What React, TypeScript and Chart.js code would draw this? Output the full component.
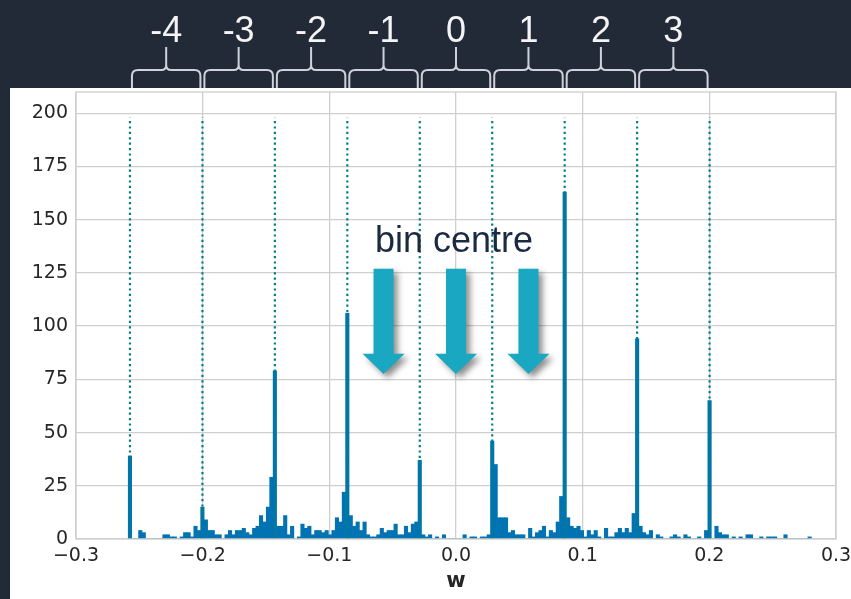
import React, { useEffect, useRef } from 'react';
import { Chart, registerables } from 'chart.js';

Chart.register(...registerables);

// ---- data ----
const binStep = 0.0572;
const braceLabels = [-4, -3, -2, -1, 0, 1, 2, 3];
const binEdges = [-0.2574, -0.2002, -0.143, -0.0858, -0.0286, 0.0286, 0.0858, 0.143, 0.2002];
const arrowBins = [-1, 0, 1];
const histFirstCentre = -0.2574;
const histBinWidth = 0.0572 / 21;
const histCounts = [
  39, 0, 0, 4, 3, 0, 0, 0, 0, 0,
  2, 2, 1, 1, 0, 1, 3, 3, 1, 6,
  4, 15, 9, 4, 4, 2, 2, 0, 2, 4,
  2, 4, 4, 5, 3, 2, 5, 6, 11, 8,
  15, 29, 79, 6, 6, 11, 2, 6, 0, 1,
  7, 5, 6, 2, 4, 4, 3, 4, 2, 4,
  10, 8, 22, 106, 11, 6, 8, 4, 8, 2,
  1, 1, 2, 5, 3, 4, 4, 7, 2, 2,
  6, 3, 7, 8, 37, 2, 1, 2, 0, 1,
  0, 2, 0, 0, 0, 0, 0, 2, 0, 1,
  1, 0, 1, 1, 2, 46, 35, 10, 10, 10,
  3, 4, 2, 2, 2, 0, 5, 1, 3, 4,
  6, 1, 4, 3, 8, 20, 163, 10, 6, 5,
  6, 4, 1, 4, 2, 4, 1, 0, 5, 1,
  1, 3, 5, 3, 5, 3, 12, 94, 6, 3,
  2, 4, 0, 2, 1, 0, 0, 1, 2, 1,
  0, 2, 1, 0, 0, 1, 0, 4, 65, 0,
  6, 3, 2, 2, 0, 1, 0, 1, 0, 2,
  2, 0, 0, 1, 0, 1, 1, 1, 0, 0,
  2, 0, 0, 0, 0, 0, 0, 1,
];
const xTicks = [-0.3, -0.2, -0.1, 0, 0.1, 0.2, 0.3];
const yTicks = [0, 25, 50, 75, 100, 125, 150, 175, 200];
const vlineTop = 198;
const arrowTop = 127;
const arrowHeadStart = 87;
const arrowTip = 77.5;

// ---- styles ----
const DARK = '#232a37';
const BAR = '#0173b2';
const TEAL = '#008080';
const GRID = '#cfcfcf';
const TICK = '#262626';
const ARROW = '#19a7c1';
const BRACE = '#cdd2db';

function drawBrace(ctx: CanvasRenderingContext2D, x0: number, x1: number, yBottom: number, yBar: number, yTip: number) {
  const xc = (x0 + x1) / 2;
  const r = 6;
  ctx.beginPath();
  ctx.moveTo(x0, yBottom);
  ctx.lineTo(x0, yBar + r);
  ctx.quadraticCurveTo(x0, yBar, x0 + r, yBar);
  ctx.lineTo(xc - 5, yBar);
  ctx.quadraticCurveTo(xc, yBar, xc, yBar - 5);
  ctx.lineTo(xc, yTip);
  ctx.moveTo(x1, yBottom);
  ctx.lineTo(x1, yBar + r);
  ctx.quadraticCurveTo(x1, yBar, x1 - r, yBar);
  ctx.lineTo(xc + 5, yBar);
  ctx.quadraticCurveTo(xc, yBar, xc, yBar - 5);
  ctx.stroke();
}

const decorPlugin = {
  id: 'decor',
  beforeDraw(chart: any) {
    const { ctx, width, height } = chart;
    ctx.save();
    ctx.fillStyle = DARK;
    ctx.fillRect(0, 0, width, height);
    ctx.fillStyle = '#ffffff';
    ctx.fillRect(10, 88, width - 10, height - 88);
    ctx.restore();
  },
  afterDatasetsDraw(chart: any) {
    const { ctx, chartArea } = chart;
    ctx.save();
    ctx.strokeStyle = GRID;
    ctx.lineWidth = 1.3;
    ctx.strokeRect(chartArea.left, chartArea.top, chartArea.right - chartArea.left, chartArea.bottom - chartArea.top);
    ctx.restore();
  },
  afterDraw(chart: any) {
    const { ctx } = chart;
    const xs = chart.scales.x;
    const ys = chart.scales.y;
    ctx.save();
    // braces + labels
    ctx.strokeStyle = BRACE;
    ctx.lineWidth = 2;
    ctx.lineJoin = 'round';
    ctx.fillStyle = '#f4f4f4';
    ctx.font = '36px "Liberation Sans", Arial, sans-serif';
    ctx.textAlign = 'center';
    ctx.textBaseline = 'alphabetic';
    braceLabels.forEach((k) => {
      const xa = xs.getPixelForValue((k - 0.5) * binStep) + 2;
      const xb = xs.getPixelForValue((k + 0.5) * binStep) - 2;
      drawBrace(ctx, xa, xb, 88, 70, 47);
      ctx.fillText(String(k), xs.getPixelForValue(k * binStep), 42);
    });
    // "bin centre" text
    ctx.fillStyle = '#1b2a41';
    ctx.font = '36px "Liberation Sans", Arial, sans-serif';
    ctx.fillText('bin centre', xs.getPixelForValue(0) - 2, 252);
    // arrows
    const yTop = ys.getPixelForValue(arrowTop);
    const yHead = ys.getPixelForValue(arrowHeadStart);
    const yTipPx = ys.getPixelForValue(arrowTip);
    arrowBins.forEach((k) => {
      const cx = xs.getPixelForValue(k * binStep);
      ctx.save();
      ctx.shadowColor = 'rgba(0,0,0,0.45)';
      ctx.shadowBlur = 6;
      ctx.shadowOffsetX = 4;
      ctx.shadowOffsetY = 4;
      ctx.fillStyle = ARROW;
      ctx.beginPath();
      ctx.moveTo(cx - 10, yTop);
      ctx.lineTo(cx + 10, yTop);
      ctx.lineTo(cx + 10, yHead);
      ctx.lineTo(cx + 21, yHead);
      ctx.lineTo(cx, yTipPx);
      ctx.lineTo(cx - 21, yHead);
      ctx.lineTo(cx - 10, yHead);
      ctx.closePath();
      ctx.fill();
      ctx.restore();
    });
    ctx.restore();
  },
};

export default function App() {
  const canvasRef = useRef<HTMLCanvasElement | null>(null);

  useEffect(() => {
    const canvas = canvasRef.current;
    if (!canvas) return;
    const barData = histCounts.map((c, i) => ({ x: histFirstCentre + i * histBinWidth, y: c }));
    const lineData: any[] = [];
    binEdges.forEach((e) => {
      lineData.push({ x: e, y: 0 }, { x: e, y: vlineTop }, { x: e, y: null });
    });
    const tickFont = { family: '"DejaVu Sans", sans-serif', size: 19 };
    const chart = new Chart(canvas, {
      type: 'bar',
      data: {
        datasets: [
          {
            type: 'line',
            data: lineData,
            borderColor: TEAL,
            borderWidth: 2.2,
            borderDash: [2.2, 3.2],
            borderCapStyle: 'butt',
            pointRadius: 0,
            spanGaps: false,
            fill: false,
            order: 0,
          } as any,
          {
            type: 'bar',
            data: barData,
            backgroundColor: BAR,
            borderWidth: 0,
            barPercentage: 1,
            categoryPercentage: 1,
            order: 1,
          } as any,
        ],
      },
      options: {
        animation: false,
        responsive: false,
        events: [],
        layout: { padding: { left: 0, top: 92, right: 15, bottom: 0 } },
        plugins: { legend: { display: false }, tooltip: { enabled: false } },
        scales: {
          x: {
            type: 'linear',
            min: -0.3,
            max: 0.3,
            offset: false,
            afterBuildTicks: (axis: any) => {
              axis.ticks = xTicks.map((v) => ({ value: v }));
            },
            afterFit: (axis: any) => {
              axis.height = 60;
              axis.paddingLeft = 0;
              axis.paddingRight = 0;
            },
            grid: { color: GRID, lineWidth: 1.3, drawTicks: false, offset: false },
            border: { display: false },
            ticks: {
              color: TICK,
              font: tickFont,
              padding: 6,
              maxRotation: 0,
              autoSkip: false,
              callback: (v: any) => {
                const n = Number(v);
                return (n < -1e-9 ? '\u2212' : '') + Math.abs(n).toFixed(1);
              },
            },
            title: {
              display: true,
              text: 'w',
              color: TICK,
              font: { family: '"DejaVu Sans", sans-serif', size: 21, weight: 'bold' },
              padding: { top: 0, bottom: 5 },
            },
          },
          y: {
            type: 'linear',
            min: 0,
            max: 210,
            afterBuildTicks: (axis: any) => {
              axis.ticks = yTicks.map((v) => ({ value: v }));
            },
            afterFit: (axis: any) => {
              axis.width = 76;
              axis.paddingTop = 0;
              axis.paddingBottom = 0;
            },
            grid: { color: GRID, lineWidth: 1.3, drawTicks: false },
            border: { display: false },
            ticks: { color: TICK, font: tickFont, padding: 8, autoSkip: false },
          },
        },
      },
      plugins: [decorPlugin],
    } as any);
    return () => chart.destroy();
  }, []);

  return (
    <div style={{ position: 'absolute', left: 0, top: 0, width: 851, height: 599 }}>
      <canvas ref={canvasRef} width={851} height={599} style={{ display: 'block', width: 851, height: 599 }} />
    </div>
  );
}
